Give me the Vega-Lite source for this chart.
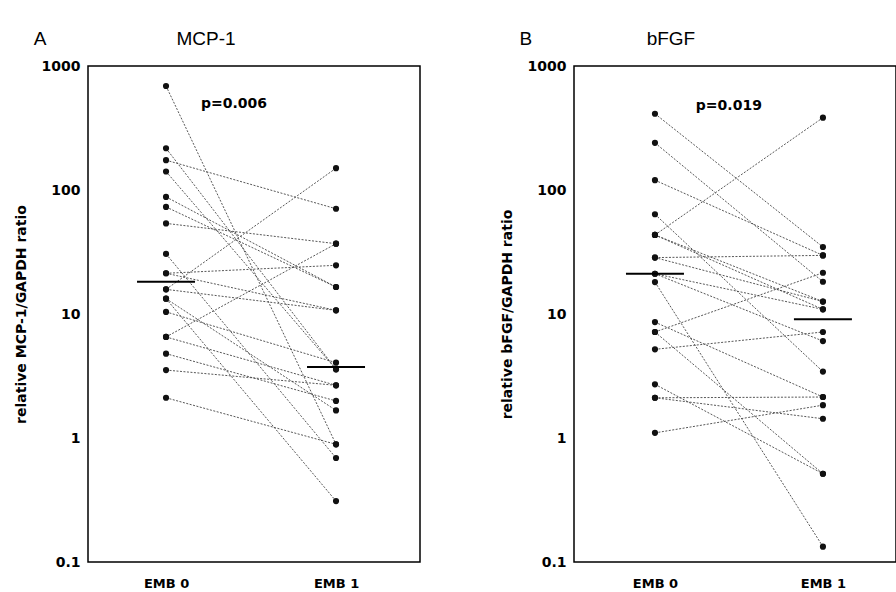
{
  "$schema": "https://vega.github.io/schema/vega-lite/v6.json",
  "background": "white",
  "padding": {"left": 13, "top": 29, "right": 0, "bottom": 0},
  "config": {
    "view": {"stroke": "black", "strokeWidth": 1.5},
    "font": "Liberation Sans",
    "axis": {"grid": false, "domain": false, "ticks": false, "labelColor": "black", "titleColor": "black"}
  },
  "spacing": 78,
  "hconcat": [
    {
      "width": 332,
      "height": 496,
      "encoding": {
        "x": {"field": "emb", "type": "quantitative", "scale": {"domain": [-0.459, 1.494], "nice": false, "zero": false},
              "axis": {"values": [0, 1], "labelExpr": "datum.value == 0 ? 'EMB 0' : 'EMB 1'", "title": null, "labelFont": "DejaVu Sans", "labelFontWeight": "bold", "labelFontSize": 13, "labelPadding": 15}},
        "y": {"field": "value", "type": "quantitative", "scale": {"type": "log", "domain": [0.1, 1000], "nice": false},
              "axis": {"values": [0.1, 1, 10, 100, 1000], "format": "~g", "title": "relative MCP-1/GAPDH ratio", "labelFont": "DejaVu Sans", "labelFontWeight": "bold", "labelFontSize": 14, "labelPadding": 8, "titleFont": "DejaVu Sans", "titleFontWeight": "bold", "titleFontSize": 14, "titlePadding": 13}}
      },
      "layer": [
        {
          "data": {"values": [
            {"id": 1, "emb": 0, "value": 690}, {"id": 1, "emb": 1, "value": 0.889},
            {"id": 2, "emb": 0, "value": 217}, {"id": 2, "emb": 1, "value": 3.58},
            {"id": 3, "emb": 0, "value": 174}, {"id": 3, "emb": 1, "value": 70.6},
            {"id": 4, "emb": 0, "value": 141}, {"id": 4, "emb": 1, "value": 3.58},
            {"id": 5, "emb": 0, "value": 88}, {"id": 5, "emb": 1, "value": 16.5},
            {"id": 6, "emb": 0, "value": 73}, {"id": 6, "emb": 1, "value": 16.5},
            {"id": 7, "emb": 0, "value": 53.8}, {"id": 7, "emb": 1, "value": 36.9},
            {"id": 8, "emb": 0, "value": 30.5}, {"id": 8, "emb": 1, "value": 0.69},
            {"id": 9, "emb": 0, "value": 21.3}, {"id": 9, "emb": 1, "value": 24.7},
            {"id": 10, "emb": 0, "value": 21.3}, {"id": 10, "emb": 1, "value": 10.7},
            {"id": 11, "emb": 0, "value": 15.8}, {"id": 11, "emb": 1, "value": 150},
            {"id": 12, "emb": 0, "value": 15.8}, {"id": 12, "emb": 1, "value": 10.7},
            {"id": 13, "emb": 0, "value": 13.3}, {"id": 13, "emb": 1, "value": 0.31},
            {"id": 14, "emb": 0, "value": 13.3}, {"id": 14, "emb": 1, "value": 1.67},
            {"id": 15, "emb": 0, "value": 10.4}, {"id": 15, "emb": 1, "value": 4.05},
            {"id": 16, "emb": 0, "value": 6.53}, {"id": 16, "emb": 1, "value": 36.9},
            {"id": 17, "emb": 0, "value": 6.53}, {"id": 17, "emb": 1, "value": 2.66},
            {"id": 18, "emb": 0, "value": 4.79}, {"id": 18, "emb": 1, "value": 1.99},
            {"id": 19, "emb": 0, "value": 3.53}, {"id": 19, "emb": 1, "value": 2.66},
            {"id": 20, "emb": 0, "value": 2.11}, {"id": 20, "emb": 1, "value": 0.889}
          ]},
          "layer": [
            {"mark": {"type": "line", "color": "#444", "strokeWidth": 0.9, "strokeDash": [2, 1.5]}, "encoding": {"detail": {"field": "id", "type": "nominal"}}},
            {"mark": {"type": "point", "filled": true, "color": "#111", "size": 38, "opacity": 1}, "encoding": {}}
          ]
        },
        {
          "data": {"values": [{"emb": 0, "value": 18.2}, {"emb": 1, "value": 3.74}]},
          "mark": {"type": "tick", "orient": "horizontal", "color": "black", "size": 58, "thickness": 2, "opacity": 1}
        },
        {
          "data": {"values": [{"emb": 0.4, "value": 494, "label": "p=0.006"}]},
          "mark": {"type": "text", "font": "DejaVu Sans", "fontWeight": "bold", "fontSize": 14, "color": "black"},
          "encoding": {"text": {"field": "label"}}
        },
        {
          "data": {"values": [{"emb": -0.741, "value": 1652, "label": "A"}, {"emb": 0.235, "value": 1652, "label": "MCP-1"}]},
          "mark": {"type": "text", "font": "Liberation Sans", "fontSize": 19, "color": "black"},
          "encoding": {"text": {"field": "label"}}
        }
      ]
    },
    {
      "width": 322,
      "height": 496,
      "encoding": {
        "x": {"field": "emb", "type": "quantitative", "scale": {"domain": [-0.482, 1.435], "nice": false, "zero": false},
              "axis": {"values": [0, 1], "labelExpr": "datum.value == 0 ? 'EMB 0' : 'EMB 1'", "title": null, "labelFont": "DejaVu Sans", "labelFontWeight": "bold", "labelFontSize": 13, "labelPadding": 15}},
        "y": {"field": "value", "type": "quantitative", "scale": {"type": "log", "domain": [0.1, 1000], "nice": false},
              "axis": {"values": [0.1, 1, 10, 100, 1000], "format": "~g", "title": "relative bFGF/GAPDH ratio", "labelFont": "DejaVu Sans", "labelFontWeight": "bold", "labelFontSize": 14, "labelPadding": 8, "titleFont": "DejaVu Sans", "titleFontWeight": "bold", "titleFontSize": 14, "titlePadding": 13}}
      },
      "layer": [
        {
          "data": {"values": [
            {"id": 1, "emb": 0, "value": 412}, {"id": 1, "emb": 1, "value": 34.7},
            {"id": 2, "emb": 0, "value": 240}, {"id": 2, "emb": 1, "value": 18.2},
            {"id": 3, "emb": 0, "value": 120}, {"id": 3, "emb": 1, "value": 29.7},
            {"id": 4, "emb": 0, "value": 63.7}, {"id": 4, "emb": 1, "value": 3.43},
            {"id": 5, "emb": 0, "value": 43.4}, {"id": 5, "emb": 1, "value": 383},
            {"id": 6, "emb": 0, "value": 43.4}, {"id": 6, "emb": 1, "value": 12.6},
            {"id": 7, "emb": 0, "value": 43.4}, {"id": 7, "emb": 1, "value": 10.9},
            {"id": 8, "emb": 0, "value": 28.5}, {"id": 8, "emb": 1, "value": 29.7},
            {"id": 9, "emb": 0, "value": 28.5}, {"id": 9, "emb": 1, "value": 12.6},
            {"id": 10, "emb": 0, "value": 21.1}, {"id": 10, "emb": 1, "value": 10.9},
            {"id": 11, "emb": 0, "value": 21.1}, {"id": 11, "emb": 1, "value": 6.05},
            {"id": 12, "emb": 0, "value": 18.1}, {"id": 12, "emb": 1, "value": 0.133},
            {"id": 13, "emb": 0, "value": 8.6}, {"id": 13, "emb": 1, "value": 2.14},
            {"id": 14, "emb": 0, "value": 7.16}, {"id": 14, "emb": 1, "value": 21.5},
            {"id": 15, "emb": 0, "value": 7.16}, {"id": 15, "emb": 1, "value": 0.515},
            {"id": 16, "emb": 0, "value": 5.19}, {"id": 16, "emb": 1, "value": 7.16},
            {"id": 17, "emb": 0, "value": 2.71}, {"id": 17, "emb": 1, "value": 0.515},
            {"id": 18, "emb": 0, "value": 2.11}, {"id": 18, "emb": 1, "value": 2.14},
            {"id": 19, "emb": 0, "value": 2.11}, {"id": 19, "emb": 1, "value": 1.43},
            {"id": 20, "emb": 0, "value": 1.1}, {"id": 20, "emb": 1, "value": 1.84}
          ]},
          "layer": [
            {"mark": {"type": "line", "color": "#444", "strokeWidth": 0.9, "strokeDash": [2, 1.5]}, "encoding": {"detail": {"field": "id", "type": "nominal"}}},
            {"mark": {"type": "point", "filled": true, "color": "#111", "size": 38, "opacity": 1}, "encoding": {}}
          ]
        },
        {
          "data": {"values": [{"emb": 0, "value": 21.1}, {"emb": 1, "value": 9.06}]},
          "mark": {"type": "tick", "orient": "horizontal", "color": "black", "size": 58, "thickness": 2, "opacity": 1}
        },
        {
          "data": {"values": [{"emb": 0.44, "value": 475, "label": "p=0.019"}]},
          "mark": {"type": "text", "font": "DejaVu Sans", "fontWeight": "bold", "fontSize": 14, "color": "black"},
          "encoding": {"text": {"field": "label"}}
        },
        {
          "data": {"values": [{"emb": -0.768, "value": 1652, "label": "B"}, {"emb": 0.095, "value": 1652, "label": "bFGF"}]},
          "mark": {"type": "text", "font": "Liberation Sans", "fontSize": 19, "color": "black"},
          "encoding": {"text": {"field": "label"}}
        }
      ]
    }
  ]
}
